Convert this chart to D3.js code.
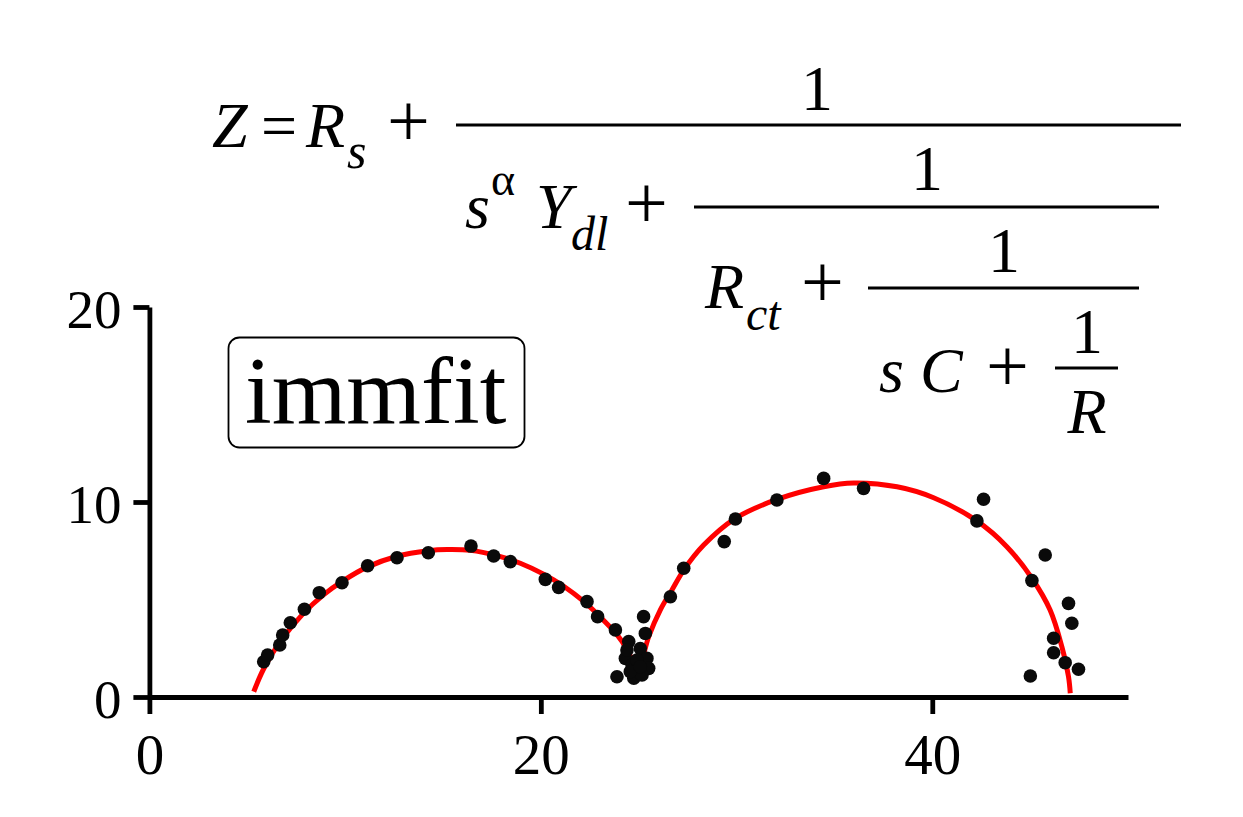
<!DOCTYPE html>
<html>
<head>
<meta charset="utf-8">
<script src="https://cdn.jsdelivr.net/npm/d3@7"></script>
<style>
  html, body { margin: 0; padding: 0; background: #fff; }
  svg { display: block; }
  text { font-family: "Liberation Serif", "Times New Roman", serif; fill: #000; }
</style>
</head>
<body>
<svg id="chart" width="1243" height="817"></svg>
<script>
// ---- data ----
const dataRe = [5.84, 6.04, 6.66, 6.81, 7.20, 7.92, 8.68, 9.84, 11.15, 12.65, 14.25, 16.43, 17.59, 18.44, 20.23, 20.91, 22.36, 22.90, 23.81,
  24.49, 24.32, 25.34, 25.25, 25.08, 25.42, 24.66, 25.51, 23.89, 24.75, 25.17, 24.57, 24.91, 25.08, 24.40,
  26.62, 27.30, 29.37, 29.94, 32.06, 34.45, 36.49, 42.62, 42.28, 45.77, 45.09, 46.96, 47.13, 46.20, 46.20, 46.79, 47.47, 45.01];
const dataIm = [1.81, 2.15, 2.67, 3.18, 3.81, 4.50, 5.35, 5.86, 6.73, 7.14, 7.40, 7.74, 7.23, 6.94, 6.03, 5.62, 4.89, 4.12, 3.44,
  2.84, 1.98, 3.26, 4.12, 2.49, 1.98, 1.64, 1.47, 1.04, 0.96, 1.13, 1.30, 1.90, 1.55, 2.41,
  5.14, 6.60, 7.97, 9.13, 10.10, 11.21, 10.70, 10.14, 9.03, 7.28, 5.97, 4.80, 3.78, 3.01, 2.27, 1.76, 1.42, 1.08];

const fitRe = [5.33, 5.84, 6.69, 7.88, 8.91, 9.93, 11.12, 12.65, 14.25, 15.21, 16.40, 17.76, 18.95, 20.14, 21.17, 22.19, 23.04, 23.89, 24.40, 24.70, 24.90,
  25.15, 25.51, 26.10, 26.70, 27.30, 28.32, 29.94, 32.06, 34.45, 35.98, 38.20, 40.07, 42.28, 43.81, 45.09, 46.02, 46.62, 46.96, 47.05];
const fitIm = [0.27, 1.45, 2.85, 4.30, 5.25, 5.98, 6.66, 7.22, 7.50, 7.56, 7.52, 7.25, 6.86, 6.30, 5.68, 4.90, 4.10, 3.20, 2.45, 1.80, 1.30,
  1.85, 3.09, 4.46, 5.49, 6.51, 7.79, 9.16, 10.13, 10.78, 10.97, 10.78, 10.22, 9.03, 7.71, 6.09, 4.46, 2.58, 1.04, 0.19];

const xTicks = [0, 20, 40];
const yTicks = [0, 10, 20];
const xDomain = [0, 50];
const yDomain = [0, 20];
const labelText = "immfit";

// ---- layout ----
const svg = d3.select("#chart");
svg.append("rect").attr("width", 1243).attr("height", 817).attr("fill", "#fff");

const x = d3.scaleLinear().domain(xDomain).range([149.4, 1128]);
const y = d3.scaleLinear().domain(yDomain).range([697, 307]);

// axes
const xAxis = svg.append("g").attr("transform", `translate(0,${y(0)})`)
  .call(d3.axisBottom(x).tickValues(xTicks).tickSize(17).tickSizeOuter(0).tickPadding(20).tickFormat(d3.format("d")));
const yAxis = svg.append("g").attr("transform", `translate(${x(0)},0)`)
  .call(d3.axisLeft(y).tickValues(yTicks).tickSize(16).tickSizeOuter(0).tickPadding(12).tickFormat(d3.format("d")));

[xAxis, yAxis].forEach(g => {
  g.selectAll("path.domain").attr("stroke", "#000").attr("stroke-width", 4.8);
  g.selectAll(".tick line").attr("stroke", "#000").attr("stroke-width", 4.8);
  g.selectAll(".tick text").attr("fill", "#000")
    .style("font-family", '"Liberation Serif", "Times New Roman", serif');
});
xAxis.selectAll(".tick text").style("font-size", "57px").attr("dy", "0.71em");
yAxis.selectAll(".tick text").style("font-size", "55px").attr("dy", "0.38em");

// fit line
const fitPts = fitRe.map((d, i) => [d, fitIm[i]]);
svg.append("path")
  .datum(fitPts)
  .attr("fill", "none")
  .attr("stroke", "#ff0000")
  .attr("stroke-width", 5)
  .attr("d", d3.line().x(d => x(d[0])).y(d => y(d[1])).curve(d3.curveCatmullRom.alpha(0.5)));

// data points
const pts = dataRe.map((d, i) => [d, dataIm[i]]);
svg.append("g").selectAll("circle").data(pts).join("circle")
  .attr("cx", d => x(d[0])).attr("cy", d => y(d[1]))
  .attr("r", 6.8).attr("fill", "#0a0a0a");

// label box
svg.append("rect").attr("x", 228.5).attr("y", 337.5).attr("width", 296).attr("height", 110)
  .attr("rx", 11).attr("ry", 11).attr("fill", "#fff").attr("stroke", "#000").attr("stroke-width", 1.8);
svg.append("text").attr("x", 245).attr("y", 423).style("font-size", "96px").text(labelText);

// ---- formula ----
const F = svg.append("g");
function t(xp, yp, str, size, italic, anchor) {
  F.append("text").attr("x", xp).attr("y", yp)
    .style("font-size", size + "px")
    .style("font-family", '"Liberation Serif", "Times New Roman", serif')
    .style("font-style", italic ? "italic" : "normal")
    .attr("text-anchor", anchor || "start")
    .text(str);
}
function hline(x1, x2, yy) {
  F.append("line").attr("x1", x1).attr("x2", x2).attr("y1", yy).attr("y2", yy)
    .attr("stroke", "#000").attr("stroke-width", 3.2);
}
// Z = R_s + 1/(...)
t(212, 147, "Z", 64, true);
t(261, 147, "=", 64, false);
t(306, 147, "R", 64, true);
t(347, 168, "s", 50, true);
t(387, 146, "+", 76, false);
hline(456, 1181, 125);
t(817, 110, "1", 64, false, "middle");
// s^α Y_dl + 1/(...)
t(465, 228, "s", 64, true);
t(491, 195, "α", 46, false);
t(536, 228, "Y", 64, true);
t(571, 250, "dl", 48, true);
t(625, 228, "+", 76, false);
hline(694, 1159, 207);
t(927, 190, "1", 64, false, "middle");
// R_ct + 1/(...)
t(705, 308, "R", 64, true);
t(746, 330, "ct", 48, true);
t(801, 307, "+", 76, false);
hline(868, 1139, 288);
t(1004, 272, "1", 64, false, "middle");
// s C + 1/R
t(879, 392, "s", 64, true);
t(920, 392, "C", 64, true);
t(986, 391, "+", 76, false);
hline(1055, 1118, 368);
t(1087, 353, "1", 64, false, "middle");
t(1087, 433, "R", 64, true, "middle");
</script>
</body>
</html>
